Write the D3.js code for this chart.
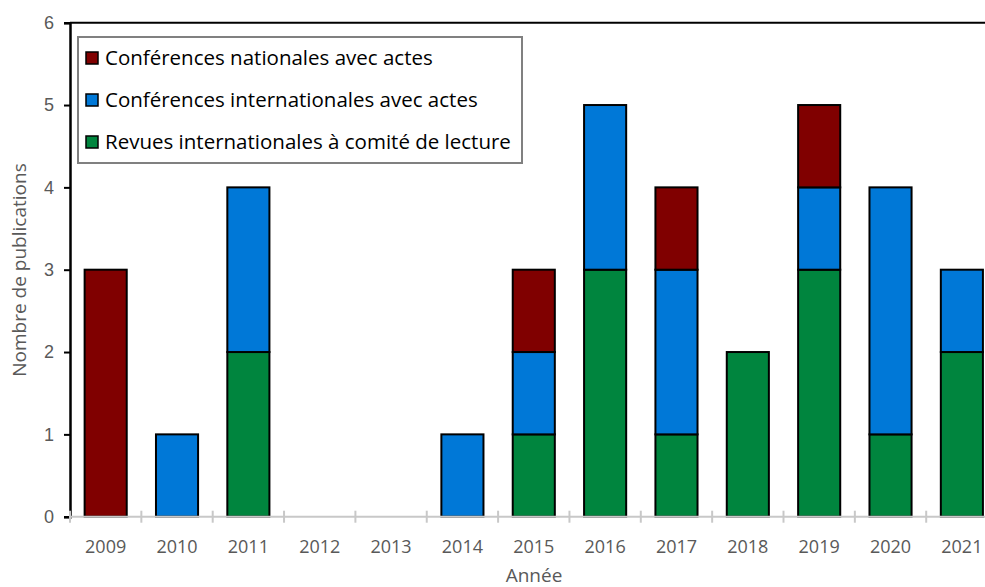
<!DOCTYPE html>
<html>
<head>
<meta charset="utf-8">
<script src="https://cdn.jsdelivr.net/npm/d3@7"></script>
<style>
  body { margin: 0; background: #fff; }
  svg { font-family: "Open Sans", Lato, sans-serif; }
</style>
</head>
<body>
<script>
// publications per year, stacked by kind

const years = ["2009","2010","2011","2012","2013","2014","2015","2016","2017","2018","2019","2020","2021"];
const revues    = [0,0,2,0,0,0,1,3,1,2,3,1,2];
const confInter = [0,1,2,0,0,1,1,2,2,0,1,3,1];
const confNat   = [3,0,0,0,0,0,1,0,1,0,1,0,0];
const yTicks = [0,1,2,3,4,5,6];

const series = [
    {key: "revues", name: "Revues internationales à comité de lecture", values: revues, color: "#00853e"},
    {key: "inter", name: "Conférences internationales avec actes", values: confInter, color: "#0078d7"},
    {key: "nat", name: "Conférences nationales avec actes", values: confNat, color: "#800000"}
];

const width = 985, height = 587;
const margin = {top: 22.7, left: 70, bottom: 70.3};

const svg = d3.select("body").append("svg")
    .attr("width", width)
    .attr("height", height);

const table = years.map((y, i) => {
    const row = {year: y};
    series.forEach(s => row[s.key] = s.values[i]);
    return row;
});
const stacked = d3.stack().keys(series.map(s => s.key))(table);

var x = d3.scaleBand()
    .domain(years)
    .range([margin.left, margin.left + 13 * 71.35])
    .paddingInner(0.41)
    .paddingOuter(0.205);

var y = d3.scaleLinear()
    .domain([0, 6])
    .range([height - margin.bottom, margin.top]);

// top border line
svg.append("line")
    .attr("x1", margin.left).attr("x2", width)
    .attr("y1", y(6)).attr("y2", y(6))
    .attr("stroke", "#000").attr("stroke-width", 2);

// bars
svg.append("g").selectAll("g")
    .data(stacked)
    .enter().append("g")
    .attr("fill", (d, i) => series[i].color)
    .selectAll("rect")
    .data(d => d.filter(p => p[1] > p[0]))
    .enter().append("rect")
    .attr("x", d => x(d.data.year))
    .attr("y", d => y(d[1]))
    .attr("width", x.bandwidth())
    .attr("height", d => y(d[0]) - y(d[1]))
    .attr("stroke", "#000")
    .attr("stroke-width", 2);

// y axis
const yAxis = svg.append("g")
    .attr("transform", `translate(${margin.left},0)`)
    .call(d3.axisLeft(y).tickValues(yTicks).tickFormat(d3.format("d")).tickSize(6).tickPadding(10));
yAxis.select(".domain").attr("stroke", "#000").attr("stroke-width", 2.5);
yAxis.selectAll(".tick line").attr("stroke", "#000").attr("stroke-width", 2);
yAxis.selectAll(".tick text").attr("fill", "#595959").attr("font-size", 18);

// x axis: grey baseline with ticks between the years
const base = y(0);
svg.append("line")
    .attr("x1", margin.left).attr("x2", width)
    .attr("y1", base).attr("y2", base)
    .attr("stroke", "#c8c8c8").attr("stroke-width", 2);
const step = x.step();
svg.append("g").selectAll("line")
    .data(d3.range(years.length + 1))
    .enter().append("line")
    .attr("x1", i => margin.left + i * step)
    .attr("x2", i => margin.left + i * step)
    .attr("y1", base - 6).attr("y2", base + 6)
    .attr("stroke", "#c8c8c8").attr("stroke-width", 2);
svg.append("g").selectAll("text")
    .data(years)
    .enter().append("text")
    .attr("x", d => x(d) + x.bandwidth() / 2)
    .attr("y", base + 36)
    .attr("text-anchor", "middle")
    .attr("fill", "#595959")
    .attr("font-size", 18)
    .text(d => d);

// axis titles
svg.append("text")
    .attr("x", 534).attr("y", 582)
    .attr("text-anchor", "middle")
    .attr("fill", "#595959").attr("font-size", 19)
    .text("Année");
svg.append("text")
    .attr("transform", "translate(26,270) rotate(-90)")
    .attr("text-anchor", "middle")
    .attr("fill", "#595959").attr("font-size", 19)
    .text("Nombre de publications");

// legend
const legend = svg.append("g");
legend.append("rect")
    .attr("x", 78).attr("y", 37)
    .attr("width", 444).attr("height", 126)
    .attr("fill", "#fff")
    .attr("stroke", "#808080").attr("stroke-width", 2);
const legendOrder = series.slice().reverse();
const item = legend.selectAll("g.item")
    .data(legendOrder)
    .enter().append("g")
    .attr("class", "item")
    .attr("transform", (d, i) => `translate(86,${58 + i * 42})`);
item.append("rect")
    .attr("x", 0).attr("y", -6)
    .attr("width", 12).attr("height", 12)
    .attr("fill", d => d.color)
    .attr("stroke", "#000").attr("stroke-width", 1.5);
item.append("text")
    .attr("x", 19).attr("y", 0)
    .attr("dy", "0.35em")
    .attr("fill", "#000").attr("font-size", 20.5)
    .text(d => d.name);
</script>
</body>
</html>
